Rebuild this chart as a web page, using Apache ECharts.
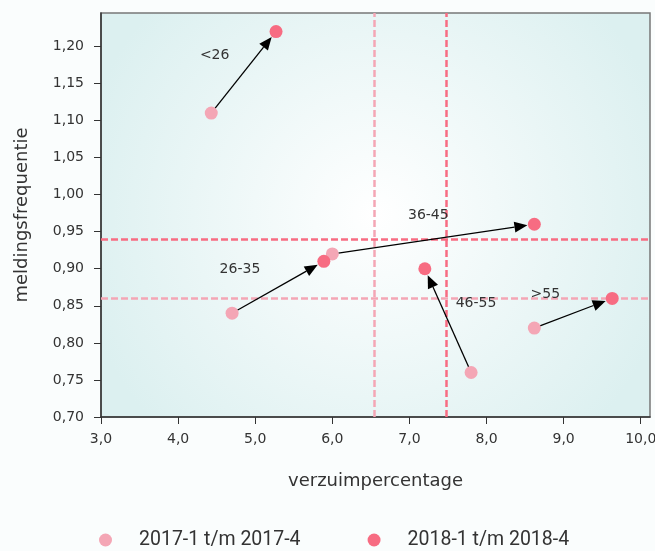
<!DOCTYPE html>
<html>
<head>
<meta charset="utf-8">
<script src="https://cdn.jsdelivr.net/npm/echarts@6/dist/echarts.min.js"></script>
<style>
html,body{margin:0;padding:0;background:#fafdfd;}
#c{width:655px;height:551px;}
</style>
</head>
<body>
<div id="c"></div>
<script>
var groups = ['<26', '26-35', '36-45', '46-55', '>55'];
var x2017 = [4.43, 4.70, 6.00, 7.80, 8.62];
var y2017 = [1.11, 0.84, 0.92, 0.76, 0.82];
var x2018 = [5.27, 5.89, 8.62, 7.20, 9.63];
var y2018 = [1.22, 0.91, 0.96, 0.90, 0.86];
var avg2017 = {x: 6.55, y: 0.86};
var avg2018 = {x: 7.48, y: 0.94};
var seriesNames = ['2017-1 t/m 2017-4', '2018-1 t/m 2018-4'];
var xTitle = 'verzuimpercentage';
var yTitle = 'meldingsfrequentie';

var labelOffsets = [[-29, -17], [-38, -18], [-5, -24], [28, -17], [-28, -19]];

var c1 = '#f4a6b5', c2 = '#f76c82';
var font = '"DejaVu Sans", sans-serif';

var chart = echarts.init(document.getElementById('c'));

var arrowData = groups.map(function (g, i) {
  return [x2017[i], y2017[i], x2018[i], y2018[i], i];
});

function renderArrow(params, api) {
  var i = api.value(4);
  var p1 = api.coord([api.value(0), api.value(1)]);
  var p2 = api.coord([api.value(2), api.value(3)]);
  var dx = p2[0] - p1[0], dy = p2[1] - p1[1];
  var len = Math.sqrt(dx * dx + dy * dy);
  var ux = dx / len, uy = dy / len;
  var r = 7;
  var tip = [p2[0] - ux * r, p2[1] - uy * r];
  var hl = 13, hw = 5.5;
  var base = [tip[0] - ux * hl, tip[1] - uy * hl];
  var start = [p1[0] + ux * 6, p1[1] + uy * 6];
  var mid = [(p1[0] + p2[0]) / 2, (p1[1] + p2[1]) / 2];
  var off = labelOffsets[i];
  return {
    type: 'group',
    children: [
      {type: 'line', shape: {x1: start[0], y1: start[1], x2: base[0], y2: base[1]},
        style: {stroke: '#000', lineWidth: 1.3}},
      {type: 'polygon', shape: {points: [tip,
        [base[0] - uy * hw, base[1] + ux * hw],
        [base[0] + uy * hw, base[1] - ux * hw]]},
        style: {fill: '#000'}},
      {type: 'text', x: mid[0] + off[0], y: mid[1] + off[1],
        style: {text: groups[i], fill: '#333', font: '14px ' + font, align: 'center', verticalAlign: 'middle'}}
    ]
  };
}

function dashed(color) {
  return {color: color, type: [7, 3], width: 2.5};
}

var option = {
  backgroundColor: '#fafdfd',
  animation: false,
  grid: {
    left: 101, top: 13, right: 5, bottom: 134,
    outerBoundsMode: 'none',
    containLabel: false,
    show: true,
    borderColor: '#777', borderWidth: 1.5,
    backgroundColor: {type: 'radial', x: 0.5, y: 0.5, r: 0.75,
      colorStops: [{offset: 0, color: '#ffffff'}, {offset: 1, color: '#dcf0f0'}]}
  },
  legend: {
    left: 94, top: 525,
    itemWidth: 13, itemHeight: 13, itemGap: 67,
    icon: 'circle',
    textStyle: {fontFamily: 'Roboto, sans-serif', fontSize: 19.5, color: '#333', padding: [0, 0, 0, 22]},
    data: seriesNames
  },
  xAxis: {
    type: 'value', min: 3, max: 10.12, interval: 1,
    name: xTitle, nameLocation: 'middle', nameGap: 55,
    nameTextStyle: {fontFamily: font, fontSize: 18, color: '#333'},
    axisLine: {show: true, lineStyle: {color: '#333', width: 1.5}},
    axisTick: {show: true, length: 7, lineStyle: {color: '#333'}},
    axisLabel: {fontFamily: font, fontSize: 14, color: '#333', margin: 15, showMaxLabel: false,
      formatter: function (v) { return v.toFixed(1).replace('.', ','); }},
    splitLine: {show: false}
  },
  yAxis: {
    type: 'value', min: 0.70, max: 1.245, interval: 0.05,
    name: yTitle, nameLocation: 'middle', nameGap: 70, nameRotate: 90,
    nameTextStyle: {fontFamily: font, fontSize: 18, color: '#333'},
    axisLine: {show: true, lineStyle: {color: '#333', width: 1.5}},
    axisTick: {show: true, length: 7, lineStyle: {color: '#333'}},
    axisLabel: {fontFamily: font, fontSize: 14, color: '#333', margin: 17, showMaxLabel: false,
      formatter: function (v) { return v.toFixed(2).replace('.', ','); }},
    splitLine: {show: false}
  },
  series: [
    {
      type: 'custom', name: 'arrows', renderItem: renderArrow,
      data: arrowData, encode: {x: [0, 2], y: [1, 3]}, z: 4, silent: true,
      markLine: {
        silent: true, symbol: 'none', label: {show: false}, z: 3,
        data: [
          {xAxis: avg2017.x, lineStyle: dashed(c1)},
          {yAxis: avg2017.y, lineStyle: dashed(c1)},
          {xAxis: avg2018.x, lineStyle: dashed(c2)},
          {yAxis: avg2018.y, lineStyle: dashed(c2)}
        ]
      }
    },
    {
      type: 'scatter', name: seriesNames[0], symbolSize: 13, z: 5,
      itemStyle: {color: c1, opacity: 1},
      data: x2017.map(function (x, i) { return [x, y2017[i]]; })
    },
    {
      type: 'scatter', name: seriesNames[1], symbolSize: 13, z: 5,
      itemStyle: {color: c2, opacity: 1},
      data: x2018.map(function (x, i) { return [x, y2018[i]]; })
    }
  ]
};
chart.setOption(option);
</script>
</body>
</html>
